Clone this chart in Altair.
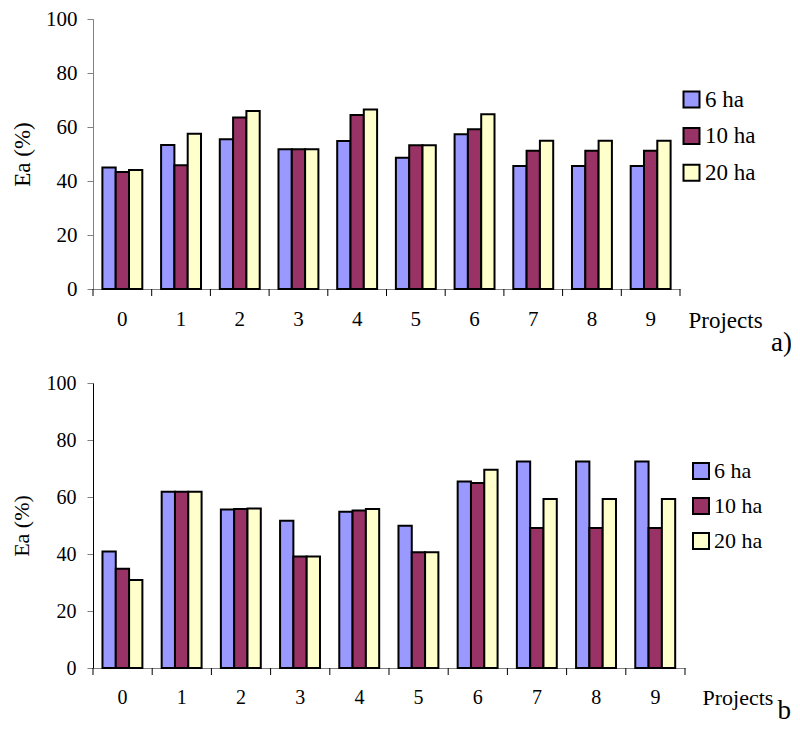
import altair as alt
import pandas as pd

projects = ["0", "1", "2", "3", "4", "5", "6", "7", "8", "9"]
series = ["6 ha", "10 ha", "20 ha"]
colors = ["#9999FF", "#993366", "#FFFFCC"]

top_6 = [45.0, 53.3, 55.5, 51.8, 54.8, 48.6, 57.3, 45.6, 45.6, 45.6]
top_10 = [43.3, 45.8, 63.5, 51.8, 64.4, 53.2, 59.2, 51.2, 51.2, 51.2]
top_20 = [44.1, 57.5, 65.9, 51.8, 66.5, 53.2, 64.7, 54.9, 54.9, 54.9]

bot_6 = [40.9, 61.8, 55.6, 51.7, 54.8, 49.9, 65.4, 72.5, 72.5, 72.5]
bot_10 = [34.8, 61.8, 55.8, 39.1, 55.3, 40.6, 64.9, 49.1, 49.1, 49.1]
bot_20 = [30.9, 61.8, 56.0, 39.1, 55.8, 40.6, 69.6, 59.3, 59.3, 59.3]

y_ticks = [0, 20, 40, 60, 80, 100]
# category boundaries on the x axis (0 .. number of projects)
boundaries = list(range(len(projects) + 1))
FONT = "Liberation Serif"
PAD = {"left": 2, "top": 0, "right": -9, "bottom": -4}


def make_df(a, b, c):
    rows = []
    for s, vals in zip(series, [a, b, c]):
        for p, v in zip(projects, vals):
            rows.append({"project": p, "series": s, "ea": v})
    return pd.DataFrame(rows)


def panel(df, width, height, label_size, title_size, y_domain_color,
          title_pad, y_label_pad, proj_x, proj_y, leg_x, leg_y, row_pad,
          tag, tag_dx, tag_offset):
    xscale = alt.Scale(domain=projects, paddingInner=0.32, paddingOuter=0.16)
    bars = alt.Chart(df).mark_bar(stroke="black", strokeWidth=2).encode(
        x=alt.X("project:N", sort=projects, scale=xscale,
                axis=alt.Axis(labelAngle=0, ticks=False,
                              domainColor="#808080", labelFont=FONT,
                              labelFontSize=label_size, labelColor="black",
                              labelPadding=19, title="Projects",
                              titleFont=FONT, titleFontSize=title_size,
                              titleFontWeight="normal", titleColor="black",
                              titleX=proj_x, titleY=proj_y, titleAlign="left",
                              titleBaseline="alphabetic")),
        xOffset=alt.XOffset("series:N", sort=series),
        y=alt.Y("ea:Q", scale=alt.Scale(domain=[0, 100], nice=False),
                axis=alt.Axis(values=y_ticks, grid=False, tickSize=6,
                              tickColor="#808080", domainColor=y_domain_color,
                              labelFont=FONT, labelFontSize=label_size,
                              labelColor="black", labelPadding=y_label_pad,
                              title="Ea (%)", titleFont=FONT,
                              titleFontSize=title_size, titleFontWeight="normal",
                              titleColor="black", titlePadding=title_pad)),
        color=alt.Color("series:N", sort=series,
                        scale=alt.Scale(domain=series, range=colors),
                        legend=alt.Legend(orient="none", legendX=leg_x,
                                          legendY=leg_y, title=None,
                                          symbolType="square", symbolSize=256,
                                          symbolStrokeColor="black",
                                          symbolStrokeWidth=2,
                                          labelFont=FONT,
                                          labelFontSize=title_size,
                                          labelColor="black",
                                          rowPadding=row_pad, labelOffset=2)),
    )
    ticks = alt.Chart(pd.DataFrame({"pos": boundaries})).mark_rule(
        color="black", strokeWidth=1
    ).encode(
        x=alt.X("pos:Q", scale=alt.Scale(domain=[0, len(projects)], nice=False,
                                         zero=False), axis=None),
        y=alt.value(height),
        y2=alt.value(height + 7),
    )
    return alt.layer(bars, ticks).resolve_scale(x="independent").properties(
        width=width, height=height,
        title=alt.TitleParams(tag, orient="bottom", anchor="end", frame="group",
                              font=FONT, fontSize=27, fontWeight="normal",
                              color="black", dx=tag_dx, offset=tag_offset),
    )


top = panel(make_df(top_6, top_10, top_20), 587, 270, 21, 23, "#808080",
            11, 10, 595, 38, 587, 69, 11.6, "a)", 112, -2)
bottom = panel(make_df(bot_6, bot_10, bot_20), 592, 285, 20, 22, "black",
               12.5, 11, 609, 36, 597, 77, 11, "b)", 115, -10.5)

chart = alt.concat(top, bottom, columns=1, spacing=17, align="none",
                   padding=PAD).resolve_scale(
    color="independent", x="independent"
).resolve_legend(color="independent").configure(
    font=FONT, background="white"
).configure_view(stroke=None)

chart.save("out.html", embed_options={"renderer": "svg", "actions": False})
